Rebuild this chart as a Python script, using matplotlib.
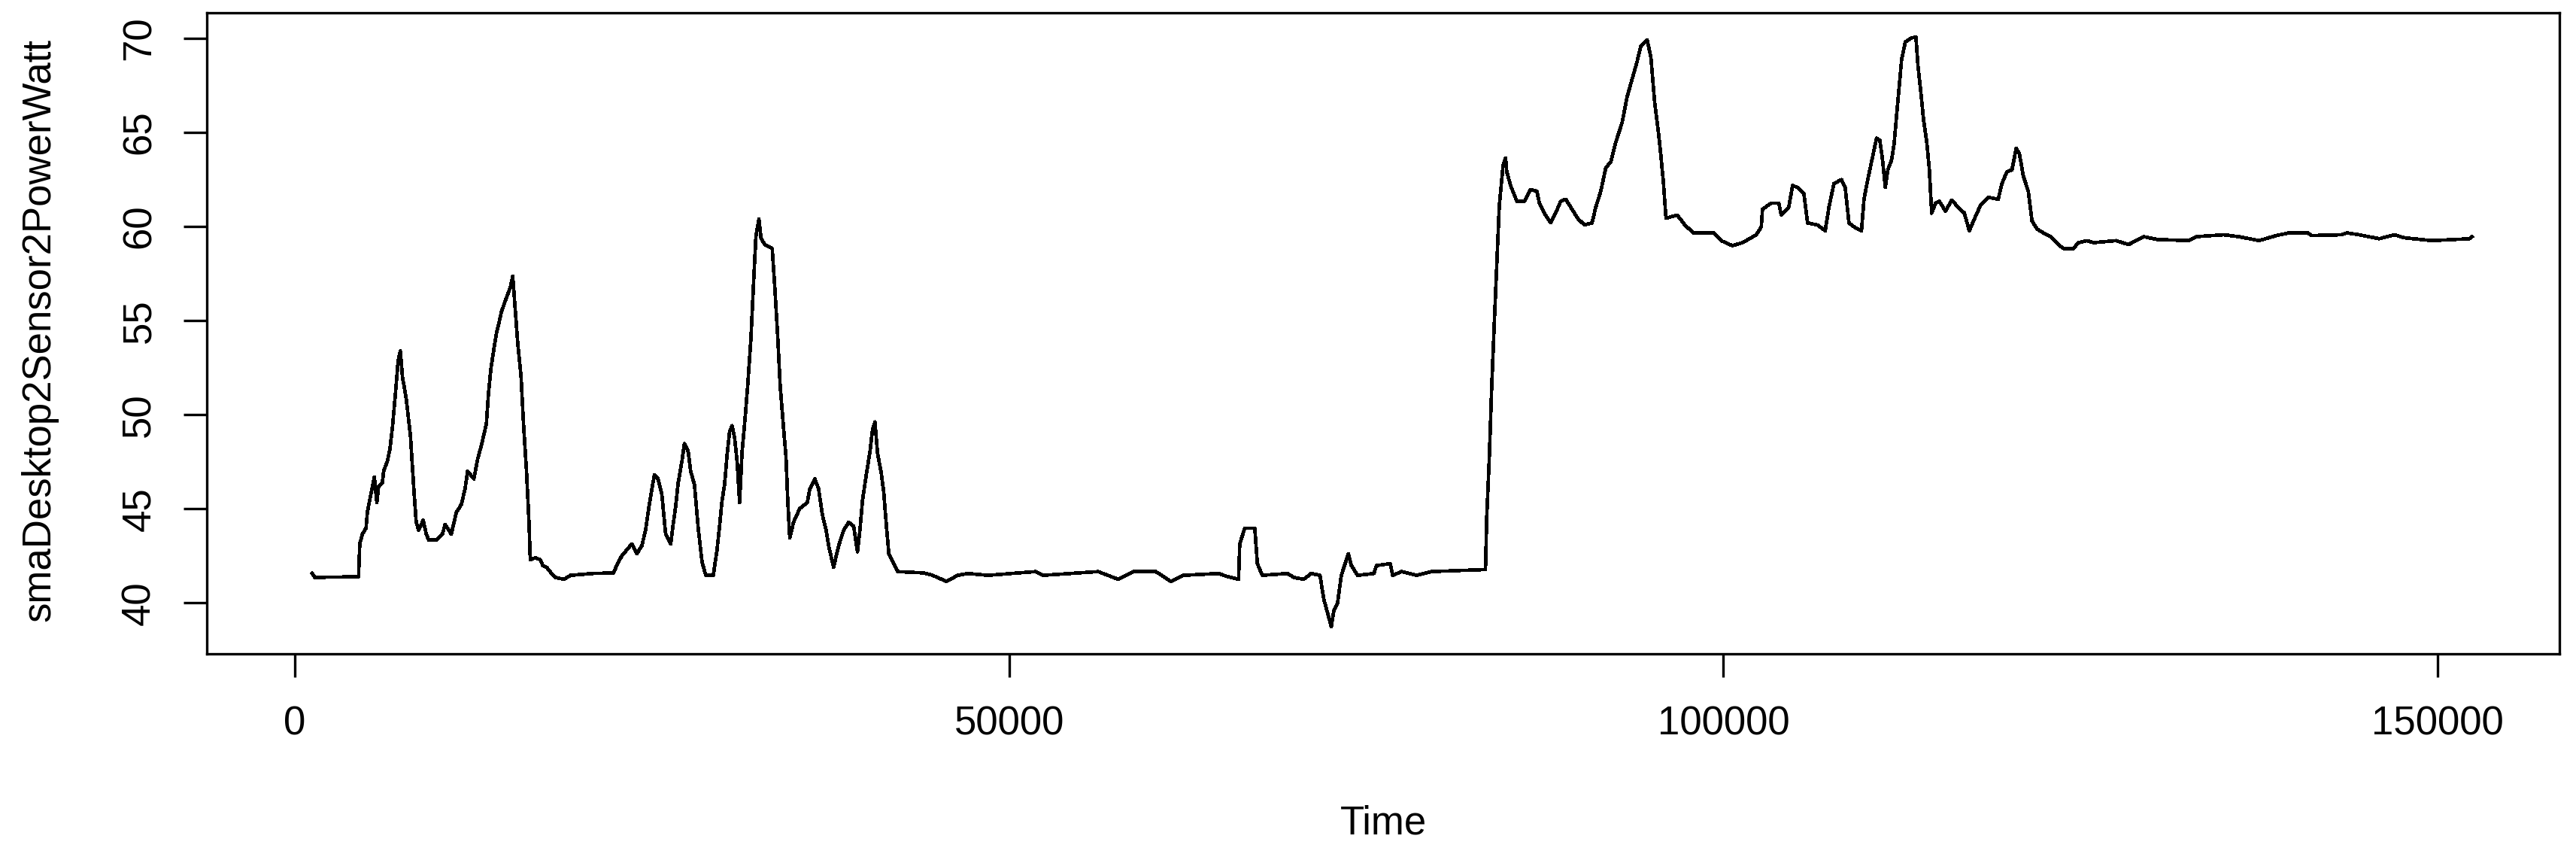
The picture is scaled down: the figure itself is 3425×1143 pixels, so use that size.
import matplotlib
matplotlib.use("Agg")
import matplotlib.pyplot as plt

# Time index and moving average power values
time_idx = [
    1210, 1400, 4459, 4546, 4722, 4985, 5073, 5248, 5423, 5564, 5739, 5862, 6125, 6213,
    6476, 6651, 6827, 7038, 7229, 7387, 7529, 7792, 8090, 8319, 8494, 8670, 8986, 9197,
    9372, 9898, 10337, 10513, 10951, 11302, 11653, 11916, 12094, 12531, 12794, 13057,
    13408, 13548, 13724, 13935, 14110, 14284, 14463, 14811, 15074, 15253, 15427, 15601,
    15833, 16006, 16216, 16390, 16480, 16832, 17179, 17358, 17621, 17969, 18232, 18849,
    19285, 20865, 22300, 22534, 22885, 23236, 23587, 23938, 24289, 24552, 24728, 24903,
    25166, 25429, 25693, 25956, 26307, 26482, 26658, 26833, 27096, 27272, 27535, 27710,
    27973, 28237, 28500, 28763, 29290, 29553, 29729, 29904, 30080, 30255, 30431, 30606,
    30782, 30958, 31133, 31308, 31519, 31695, 31923, 32100, 32274, 32485, 32627, 32890,
    33416, 33592, 33803, 33976, 34208, 34382, 34504, 34644, 34908, 35345, 35871, 36050,
    36397, 36660, 36923, 37187, 37366, 37713, 38066, 38418, 38766, 39119, 39382, 39556,
    39735, 39998, 40261, 40436, 40610, 40789, 41052, 41226, 41400, 41579, 41926, 42189,
    44032, 44647, 45610, 46400, 47106, 48506, 51843, 52370, 56229, 57633, 58686, 60266,
    61319, 62194, 64653, 65300, 66061, 66145, 66497, 67198, 67377, 67724, 69483, 69920,
    70620, 71147, 71763, 72026, 72289, 72552, 72727, 72990, 73254, 73517, 73747, 73958,
    74395, 75537, 75713, 76677, 76854, 77465, 78518, 79571, 83346, 83435, 83609, 83783,
    83962, 84136, 84310, 84573, 84752, 84836, 85100, 85542, 86068, 86505, 86942, 87120,
    87467, 87909, 88256, 88609, 88962, 89399, 89836, 90278, 90805, 91068, 91416, 91768,
    92121, 92468, 92911, 93258, 93611, 93964, 94227, 94664, 94927, 95191, 95454, 95628,
    95807, 95981, 96771, 97297, 97913, 99314, 99840, 100630, 101336, 102299, 102652,
    102736, 103352, 103879, 104052, 104579, 104842, 105195, 105632, 105895, 106600,
    107127, 107390, 107737, 108264, 108527, 108790, 109229, 109667, 109842, 110105,
    110458, 110721, 110947, 111126, 111337, 111512, 111775, 111949, 112128, 112302,
    112476, 112739, 113182, 113477, 113619, 113829, 114003, 114235, 114408, 114582,
    114846, 115109, 115551, 115988, 116425, 116868, 117215, 117568, 118005, 118532,
    119237, 119500, 119848, 120200, 120500, 120727, 120990, 121343, 121606, 121953,
    122396, 122922, 123449, 123796, 124502, 124849, 125465, 125902, 127482, 128361,
    129414, 130378, 132574, 133100, 135032, 136085, 137487, 138720, 139593, 140909,
    141173, 143279, 143630, 144510, 145910, 146963, 147669, 149596, 152229, 152408,
]
power_watt = [
    41.57, 41.36, 41.40, 43.14, 43.66, 43.98, 44.81, 45.50, 46.17, 46.70, 45.34, 46.17, 46.38, 47.00,
    47.53, 48.16, 49.31, 51.09, 52.87, 53.39, 52.03, 50.88, 48.89, 46.17, 44.29, 43.87, 44.40, 43.66,
    43.35, 43.35, 43.66, 44.18, 43.66, 44.81, 45.23, 46.07, 47.00, 46.59, 47.64, 48.37,
    49.52, 51.09, 52.45, 53.50, 54.33, 54.86, 55.48, 56.22, 56.74, 57.36, 55.59, 53.81,
    52.03, 49.52, 47.00, 44.29, 42.30, 42.40, 42.30, 41.99, 41.90, 41.57, 41.36, 41.26,
    41.47, 41.57, 41.60, 41.99, 42.51, 42.82, 43.14, 42.62, 43.04, 43.87, 44.81, 45.65,
    46.80, 46.59, 45.75, 43.66, 43.14, 44.18, 45.13, 46.38, 47.53, 48.47, 48.05, 47.00,
    46.28, 43.98, 42.20, 41.47, 41.47, 42.82, 44.08, 45.44, 46.28, 47.85, 49.10, 49.42,
    48.79, 47.53, 45.34, 48.05, 49.83, 51.51, 54.02, 56.84, 59.46, 60.40, 59.40, 59.04,
    58.83, 56.84, 54.12, 51.51, 49.31, 47.74, 45.44, 43.45, 44.29, 45.02, 45.34, 46.07,
    46.59, 46.07, 44.71, 43.87, 43.04, 41.90, 43.04, 43.87, 44.29, 44.08, 42.72, 43.87,
    45.44, 46.80, 48.05, 49.20, 49.62, 47.95, 46.90, 45.86, 44.18, 42.62, 42.09, 41.67,
    41.60, 41.47, 41.15, 41.47, 41.57, 41.47, 41.67, 41.47, 41.67, 41.26, 41.67, 41.67,
    41.15, 41.47, 41.57, 41.40, 41.26, 43.14, 43.98, 43.98, 42.09, 41.47, 41.57, 41.36,
    41.26, 41.57, 41.47, 40.21, 39.48, 38.74, 39.58, 39.99, 41.47, 42.09, 42.62, 41.99,
    41.47, 41.57, 41.99, 42.09, 41.47, 41.67, 41.47, 41.67, 41.78, 44.60, 47.64, 51.51,
    54.86, 57.93, 61.07, 63.22, 63.64, 62.91, 62.18, 61.34, 61.34, 61.97, 61.87, 61.24,
    60.71, 60.19, 60.71, 61.34, 61.45, 60.92, 60.40, 60.08, 60.19, 61.03, 61.87, 63.12,
    63.43, 64.48, 65.52, 66.88, 67.82, 68.77, 69.60, 69.92, 68.98, 66.57, 65.00, 63.74,
    62.28, 60.44, 60.61, 60.08, 59.66, 59.66, 59.25, 58.98, 59.14, 59.56, 59.98,
    60.92, 61.24, 61.24, 60.61, 61.03, 62.18, 62.07, 61.76, 60.19, 60.08,
    59.77, 61.03, 62.28, 62.49, 62.07, 60.19, 59.94, 59.77, 61.45, 62.49,
    63.74, 64.69, 64.58, 63.64, 62.07, 63.01, 63.54, 64.37, 65.94, 67.41,
    68.87, 69.81, 70.02, 70.06, 68.56, 67.09, 65.73, 64.48, 63.12, 60.71,
    61.24, 61.34, 60.82, 61.40, 61.03, 60.71, 59.77, 60.40, 61.13, 61.55,
    61.45, 62.28, 62.91, 63.01, 64.16, 63.85, 62.70, 61.87, 60.29, 59.87,
    59.66, 59.46, 59.04, 58.83, 58.83, 59.14, 59.25, 59.14, 59.25, 59.04,
    59.46, 59.31, 59.25, 59.46, 59.56, 59.46, 59.25, 59.52, 59.66, 59.66,
    59.52, 59.56, 59.66, 59.56, 59.35, 59.56, 59.40, 59.25, 59.35, 59.46,
]

x_ticks = [0, 50000, 100000, 150000]
y_ticks = [40, 45, 50, 55, 60, 65, 70]


def main():
    plt.rcParams['font.family'] = ['Liberation Sans', 'DejaVu Sans']
    plt.rcParams['font.size'] = 38

    fig = plt.figure(figsize=(34.25, 11.43), dpi=100)
    ax = fig.add_axes([0.0803, 0.2397, 0.9133, 0.7454])

    # R-style plot: thick black line, no antialiasing
    ax.plot(time_idx, power_watt, color='black', linewidth=2.6, antialiased=False)

    ax.set_xlim(-6160, 158530)
    ax.set_ylim(37.3, 71.35)
    ax.set_xticks(x_ticks)
    ax.set_xticklabels([str(t) for t in x_ticks])
    ax.set_yticks(y_ticks)
    ax.set_yticklabels([str(v) for v in y_ticks])

    for spine in ax.spines.values():
        spine.set_linewidth(2.4)
    ax.tick_params(direction='out', length=22.3, width=2.4, labelsize=38)
    ax.tick_params(axis='x', pad=27)
    ax.tick_params(axis='y', pad=24, labelrotation=90)
    for label in ax.get_yticklabels():
        label.set_verticalalignment('center')

    ax.set_xlabel('Time', fontsize=38)
    ax.set_ylabel('smaDesktop2Sensor2PowerWatt', fontsize=38)
    ax.xaxis.set_label_coords(0.5, -0.235)
    ax.yaxis.set_label_coords(-0.063, 0.505)

    fig.savefig('out.png', dpi=100)


if __name__ == "__main__":
    main()
